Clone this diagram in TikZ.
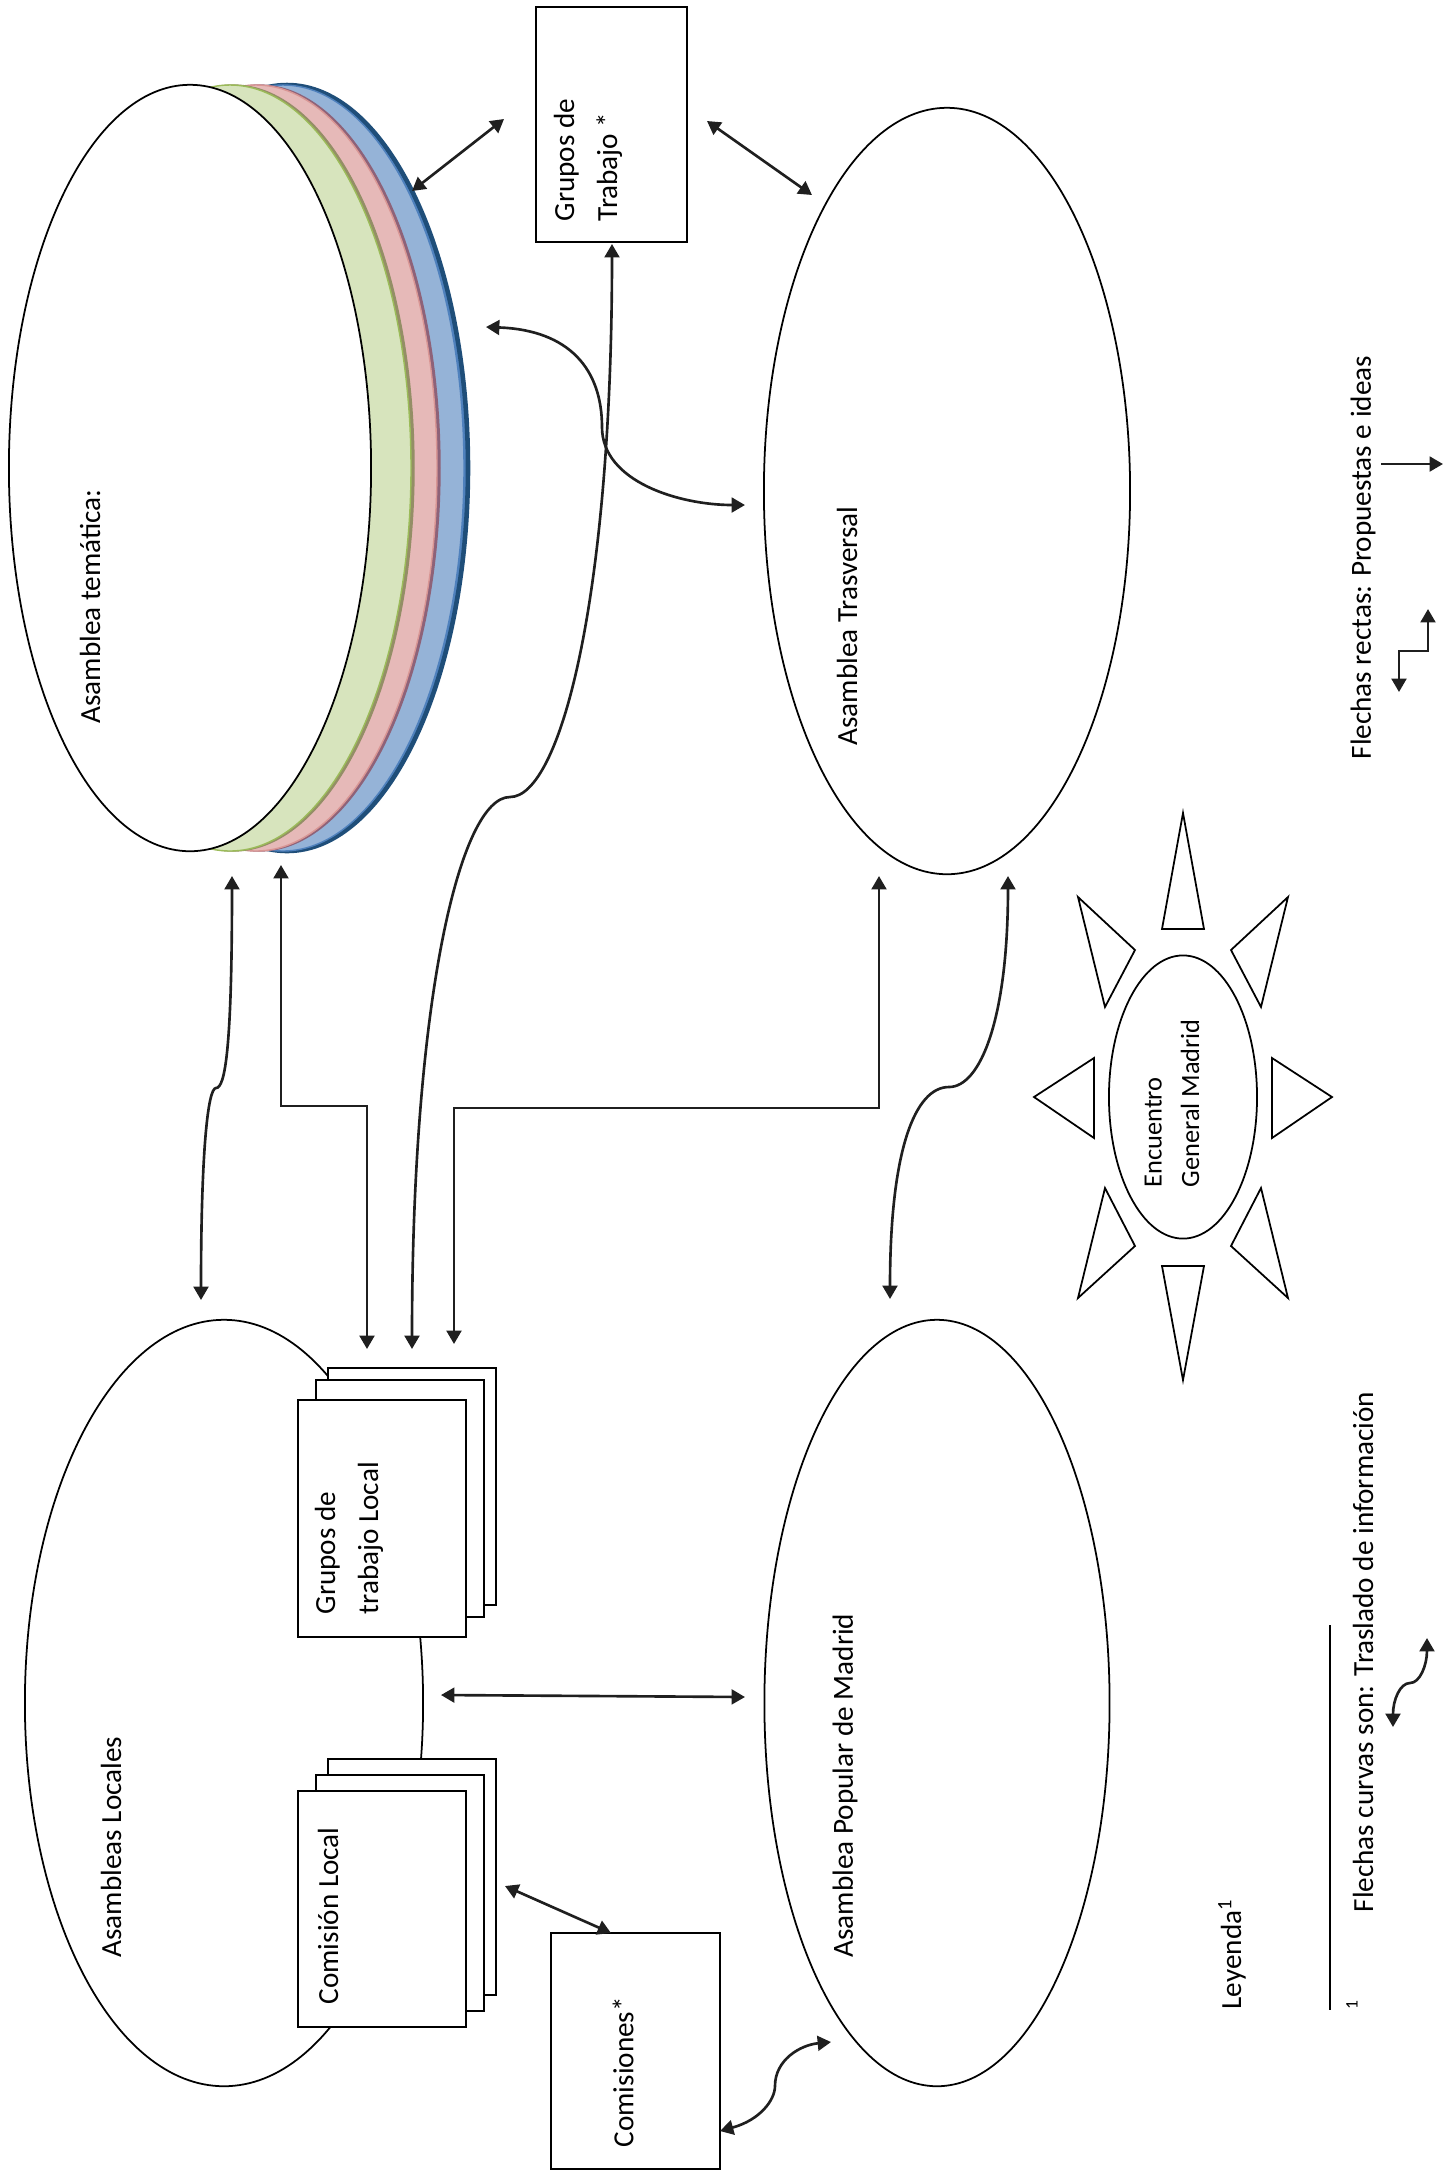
\documentclass[tikz,border=0pt]{standalone}
\usepackage{fontspec}
\setmainfont{Carlito}
\usetikzlibrary{arrows.meta,shapes.geometric}
\definecolor{greenF}{HTML}{D7E4BD}
\definecolor{greenD}{HTML}{9BBB59}
\definecolor{oliveL}{HTML}{948E66}
\definecolor{pinkF}{HTML}{E6B9B8}
\definecolor{pinkD}{HTML}{D99694}
\definecolor{mauveL}{HTML}{8E6278}
\definecolor{blueF}{HTML}{95B3D7}
\definecolor{blueM}{HTML}{4F81BD}
\definecolor{blueD}{HTML}{1F4E79}
\begin{document}
\begin{tikzpicture}[x=0.01cm,y=-0.01cm,
  shp/.style={draw=black, line width=0.5pt, fill=white, inner sep=0pt},
  ell/.style={shp, ellipse},
  box/.style={shp, rectangle},
  conn/.style={line width=0.75pt, draw=black!88,
     {Triangle[length=3.8pt,width=4.2pt]}-{Triangle[length=3.8pt,width=4.2pt]}},
  conn1/.style={line width=0.75pt, draw=black!88, -{Triangle[length=3.8pt,width=4.2pt]}},
  lbl/.style={rotate=90, anchor=west, inner sep=0pt, align=left,
     font=\fontsize{8.3}{12.2}\selectfont},
  ray/.style={draw=black, line width=0.5pt, fill=white}]
\useasboundingbox (0,0) rectangle (1444,2174);

% stacked disk (Asamblea tematica)
\foreach \dx/\f/\d/\lw in {97/blueM/blueD/1.3pt, 93/blueF/blueM/0.4pt,
   69/mauveL/mauveL/0.4pt, 66/pinkF/pinkD/0.4pt, 43/oliveL/oliveL/0.4pt, 40/greenF/greenD/0.4pt}
  \path[fill=\f, draw=\d, line width=\lw] (190+\dx,468) ellipse [x radius=181, y radius=383];
\node[ell, minimum width=3.62cm, minimum height=7.66cm] (tem) at (190,468) {};

% big ellipses
\node[ell, minimum width=3.66cm, minimum height=7.66cm] (tra) at (947,491) {};
\node[ell, minimum width=3.98cm, minimum height=7.66cm] (loc) at (224,1703) {};
\node[ell, minimum width=3.45cm, minimum height=7.66cm] (pop) at (937,1703) {};

% Encuentro General Madrid with rays
\node[ell, minimum width=1.48cm, minimum height=2.83cm] (enc) at (1183,1097) {};
\draw[ray] (1183,813) -- (1162,929) -- (1204,929) -- cycle;
\draw[ray] (1183,1380) -- (1162,1266) -- (1204,1266) -- cycle;
\draw[ray] (1034,1097) -- (1094,1058) -- (1094,1138) -- cycle;
\draw[ray] (1332,1097) -- (1272,1058) -- (1272,1138) -- cycle;
\draw[ray] (1078,897) -- (1135,950) -- (1105,1007) -- cycle;
\draw[ray] (1288,897) -- (1231,950) -- (1261,1007) -- cycle;
\draw[ray] (1078,1298) -- (1135,1246) -- (1105,1188) -- cycle;
\draw[ray] (1288,1298) -- (1231,1246) -- (1261,1188) -- cycle;

% boxes
\node[box, minimum width=1.51cm, minimum height=2.35cm] (gt) at (611.5,124.5) {};
\node[box, minimum width=1.68cm, minimum height=2.37cm] (gtl3) at (412,1486.5) {};
\node[box, minimum width=1.68cm, minimum height=2.37cm] (gtl2) at (400,1498.5) {};
\node[box, minimum width=1.68cm, minimum height=2.37cm] (gtl) at (382,1518.5) {};
\node[box, minimum width=1.68cm, minimum height=2.36cm] (cl3) at (412,1877) {};
\node[box, minimum width=1.68cm, minimum height=2.36cm] (cl2) at (400,1893) {};
\node[box, minimum width=1.68cm, minimum height=2.36cm] (cl) at (382,1909) {};
\node[box, minimum width=1.69cm, minimum height=2.36cm] (com) at (635.5,2051) {};

% texts
\node[lbl] (tTem) at (90,724) {Asamblea temática:};
\node[lbl] (tGt) at (588,222) {Grupos de\\Trabajo *};
\node[lbl] (tTra) at (847,746) {Asamblea Trasversal};
\node[lbl] (tLoc) at (111,1958) {Asambleas Locales};
\node[lbl] (tGtl) at (349,1615) {Grupos de\\trabajo Local};
\node[lbl] (tCl) at (328,2005) {Comisión Local};
\node[lbl] (tCom) at (623,2148) {Comisiones*};
\node[lbl] (tPop) at (845,1958) {Asamblea Popular de Madrid};
\node[lbl, font=\fontsize{7.5}{10.6}\selectfont] (tEnc) at (1172,1188) {Encuentro\\General Madrid};
\node[lbl] (tLey) at (1232,2010) {Leyenda\textsuperscript{1}};
\node[lbl, font=\fontsize{5}{6}\selectfont] (tFn) at (1352,2010) {1};
\node[lbl] (tCur) at (1363,1913) {Flechas curvas son: Traslado de información};
\node[lbl] (tRec) at (1363,760) {Flechas rectas: Propuestas e ideas};

% footnote rule
\draw[line width=0.6pt] (1330,1625) -- (1330,2010);

% connector end points
\coordinate (a1) at (412,191);  \coordinate (a2) at (504,119);
\coordinate (b1) at (707,121);  \coordinate (b2) at (812,195);
\coordinate (c1) at (486,327);  \coordinate (c2) at (745,505);
\coordinate (d1) at (612,244);  \coordinate (d2) at (412,1349);
\coordinate (e1) at (232,876);  \coordinate (e2) at (201,1300);
\coordinate (f1) at (281,865);  \coordinate (f2) at (367,1349);
\coordinate (g1) at (879,876);  \coordinate (g2) at (454,1344);
\coordinate (h1) at (1008,876); \coordinate (h2) at (890,1299);
\coordinate (i1) at (441,1695); \coordinate (i2) at (745,1697);
\coordinate (j1) at (505,1886); \coordinate (j2) at (611,1933);
\coordinate (k1) at (720,2131); \coordinate (k2) at (831,2042);
\coordinate (l1) at (1381,464); \coordinate (l2) at (1443,464);
\coordinate (m1) at (1399,692); \coordinate (m2) at (1428,609);
\coordinate (n1) at (1393,1727); \coordinate (n2) at (1427,1638);

% connectors
\draw[conn] (a1) -- (a2);
\draw[conn] (b1) -- (b2);
\draw[conn] (c1) .. controls (570,330) and (602,370) .. (602,427)
                 .. controls (602,482) and (680,505) .. (c2);
\draw[conn] (d1) .. controls (612,600) and (560,797) .. (510,797)
                 .. controls (460,797) and (412,1000) .. (d2);
\draw[conn] (e1) .. controls (232,1050) and (225,1088) .. (216,1088)
                 .. controls (208,1088) and (201,1150) .. (e2);
\draw[conn] (f1) |- (367,1106) -- (f2);
\draw[conn] (g1) |- (454,1108) -- (g2);
\draw[conn] (h1) .. controls (1008,1020) and (980,1087) .. (949,1087)
                 .. controls (915,1087) and (890,1150) .. (h2);
\draw[conn] (i1) -- (i2);
\draw[conn] (j1) -- (j2);
\draw[conn] (k1) .. controls (760,2120) and (775,2100) .. (775,2086)
                 .. controls (775,2060) and (800,2045) .. (k2);
% legend arrows
\draw[conn1] (l1) -- (l2);
\draw[conn] (m1) |- (1428,651) -- (m2);
\draw[conn] (n1) .. controls (1393,1700) and (1400,1683) .. (1410,1683)
                 .. controls (1420,1683) and (1427,1665) .. (n2);
\end{tikzpicture}
\end{document}
